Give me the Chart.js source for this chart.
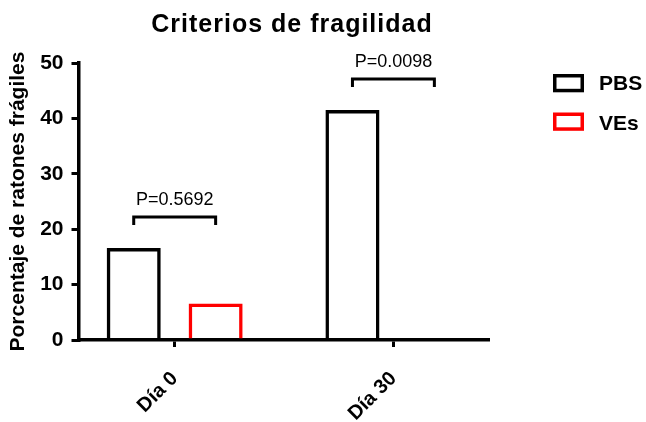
<!DOCTYPE html>
<html><head><meta charset="utf-8">
<script src="https://cdn.jsdelivr.net/npm/chart.js@4"></script>
<style>html,body{margin:0;padding:0;background:#fff}</style>
</head><body>
<canvas id="c" width="646" height="422"></canvas>
<script>
const categories = ['Día 0', 'Día 30'];
const seriesNames = ['PBS', 'VEs'];
const pbsValues = [16.6, 41.5];
const vesValues = [6.6, 0];
const pValues = ['P=0.5692', 'P=0.0098'];
const yTicks = [0, 10, 20, 30, 40, 50];
const titleText = 'Criterios de fragilidad';
const yTitle = 'Porcentaje de ratones frágiles';

const FONT = '"Liberation Sans", Arial, Helvetica, sans-serif';

const overlay = {
  id: 'overlay',
  afterDraw(chart) {
    const ctx = chart.ctx;
    const ys = chart.scales.y;
    ctx.save();
    ctx.fillStyle = '#000';
    // title
    ctx.font = 'bold 25px ' + FONT;
    ctx.letterSpacing = '1px';
    ctx.textAlign = 'center';
    ctx.textBaseline = 'alphabetic';
    ctx.fillText(titleText, 292, 32);
    ctx.letterSpacing = '0px';
    // legend
    chart.data.datasets.forEach((ds, i) => {
      ctx.lineWidth = 3.5;
      ctx.strokeStyle = ds.borderColor;
      ctx.strokeRect(554.75, 75.75 + i * 38.5, 27.5, 14.8);
      ctx.font = 'bold 21px ' + FONT;
      ctx.textAlign = 'left';
      ctx.fillText(ds.label, 599, 90 + i * 40);
    });
    // significance brackets
    const m0 = chart.getDatasetMeta(0), m1 = chart.getDatasetMeta(1);
    ctx.lineJoin = 'miter';
    ctx.lineCap = 'butt';
    categories.forEach((c, i) => {
      const x0 = m0.data[i].x, x1 = m1.data[i].x;
      const topVal = Math.max(pbsValues[i], vesValues[i]);
      const by = ys.getPixelForValue(topVal) - 31;
      ctx.strokeStyle = '#000';
      ctx.lineWidth = 3;
      ctx.beginPath();
      ctx.moveTo(x0, by + 8); ctx.lineTo(x0, by); ctx.lineTo(x1, by); ctx.lineTo(x1, by + 8);
      ctx.stroke();
      ctx.font = '18px ' + FONT;
      ctx.textAlign = 'center';
      ctx.fillText(pValues[i], (x0 + x1) / 2, by - 12);
    });
    ctx.restore();
  }
};

const gridOpts = { display: true, offset: false, drawOnChartArea: false, drawTicks: true, tickLength: 7, lineWidth: 3, color: '#000' };
const borderOpts = { display: true, width: 3.5, color: '#000' };

new Chart(document.getElementById('c'), {
  type: 'bar',
  data: {
    datasets: [
      { label: seriesNames[0], data: categories.map((c, i) => ({ x: i, y: pbsValues[i] })),
        backgroundColor: 'rgba(0,0,0,0)', borderColor: '#000000', borderWidth: 3.5,
        categoryPercentage: 0.749, barPercentage: 0.66 },
      { label: seriesNames[1], data: categories.map((c, i) => ({ x: i, y: vesValues[i] })),
        backgroundColor: 'rgba(0,0,0,0)', borderColor: '#ff0000', borderWidth: 3.5,
        categoryPercentage: 0.749, barPercentage: 0.66 }
    ]
  },
  options: {
    responsive: false, animation: false, devicePixelRatio: 1,
    layout: { padding: { top: 63, right: 158, bottom: 0, left: 0 } },
    plugins: { legend: { display: false }, title: { display: false }, tooltip: { enabled: false } },
    scales: {
      x: {
        type: 'linear', min: -0.4397, max: 1.4324, bounds: 'data', offset: false,
        afterBuildTicks: s => { s.ticks = categories.map((c, i) => ({ value: i })); },
        afterFit: s => { s.height = 82; },
        ticks: { callback: v => categories[v], minRotation: 45, maxRotation: 45, autoSkip: false,
          color: '#000', font: { family: FONT, size: 20, weight: 'bold' }, padding: 20 },
        grid: gridOpts,
        border: borderOpts
      },
      y: {
        min: 0, max: 50,
        afterBuildTicks: s => { s.ticks = yTicks.map(v => ({ value: v })); },
        afterFit: s => { s.width = 78.5; },
        ticks: { color: '#000', font: { family: FONT, size: 21, weight: 'bold' }, padding: 8 },
        grid: gridOpts,
        border: borderOpts,
        title: { display: true, text: yTitle, color: '#000',
          font: { family: FONT, size: 21, weight: 'bold' }, padding: { top: 6, bottom: 0 } }
      }
    }
  },
  plugins: [overlay]
});
</script>
</body></html>
